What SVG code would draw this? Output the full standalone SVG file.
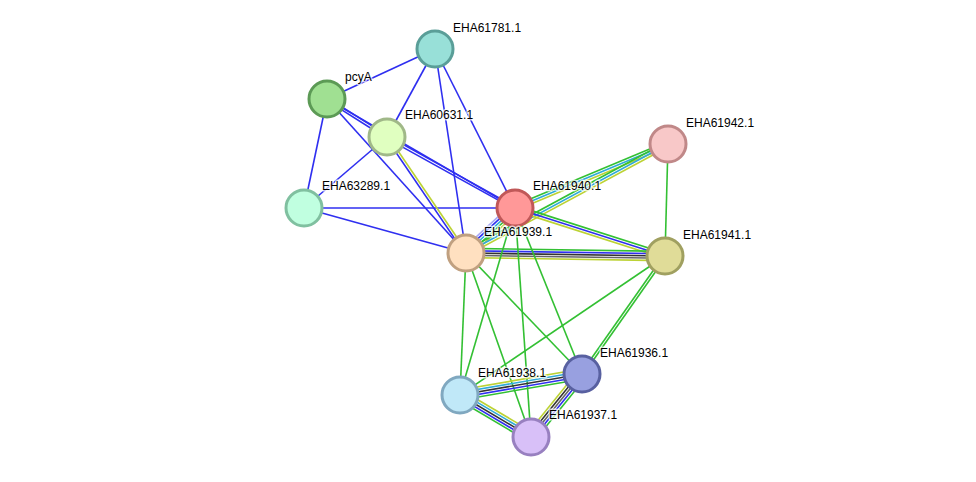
<svg xmlns="http://www.w3.org/2000/svg" width="976" height="482" viewBox="0 0 976 482">
<style>
line{stroke-width:1.6;fill:none}
.b{stroke:#2f2ff0}
.g{stroke:#33c033}
.c{stroke:#2eaad8}
.y{stroke:#bcd234}
.k{stroke:#333}
.k2{stroke:#666}
.l{stroke:#a8a8f4}
circle{stroke-width:3}
text{font-family:"Liberation Sans",Arial,sans-serif;font-size:12px;fill:#000;stroke:#fff;stroke-width:3;stroke-opacity:0.7;paint-order:stroke;stroke-linejoin:round}
</style>
<rect width="976" height="482" fill="#fff"/>
<g id="edges">
<line class="b" x1="435" y1="49" x2="327" y2="99"/>
<line class="b" x1="435" y1="49" x2="387" y2="137"/>
<line class="b" x1="435" y1="49" x2="466" y2="253"/>
<line class="b" x1="435" y1="49" x2="515" y2="208"/>
<line class="b" x1="327" y1="99" x2="304" y2="208"/>
<line class="b" x1="327" y1="99" x2="466" y2="253"/>
<line class="b" x1="327" y1="99" x2="515" y2="208"/>
<line class="b" x1="387" y1="137" x2="304" y2="208"/>
<line class="b" x1="304" y1="208" x2="515" y2="208"/>
<line class="b" x1="304" y1="208" x2="466" y2="253"/>
<g transform="translate(327,99) rotate(32.35)"><line class="b" x2="71" y1="-1.25" y2="-1.25"/><line class="b" x2="71" y1="1.25" y2="1.25"/></g>
<g transform="translate(387,137) rotate(29.02)"><line class="b" x2="146.4" y1="-1.25" y2="-1.25"/><line class="b" x2="146.4" y1="1.25" y2="1.25"/></g>
<g transform="translate(387,137) rotate(55.74)"><line class="y" x2="140.3" y1="-1.25" y2="-1.25"/><line class="b" x2="140.3" y1="1.25" y2="1.25"/></g>
<g transform="translate(466,253) rotate(-42.56)"><line class="l" x2="66.5" y1="-5" y2="-5"/><line class="b" x2="66.5" y1="-2.5" y2="-2.5"/><line class="c" x2="66.5"/><line class="g" x2="66.5" y1="2.5" y2="2.5"/><line class="y" x2="66.5" y1="5" y2="5"/></g>
<g transform="translate(515,208) rotate(-22.70)"><line class="g" x2="165.8" y1="-2.5" y2="-2.5"/><line class="c" x2="165.8"/><line class="y" x2="165.8" y1="2.5" y2="2.5"/></g>
<g transform="translate(466,253) rotate(-28.35)"><line class="g" x2="229.5" y1="-2.5" y2="-2.5"/><line class="c" x2="229.5"/><line class="y" x2="229.5" y1="2.5" y2="2.5"/></g>
<g transform="translate(515,208) rotate(17.74)"><line class="g" x2="157.5" y1="-2.5" y2="-2.5"/><line class="b" x2="157.5"/><line class="y" x2="157.5" y1="2.5" y2="2.5"/></g>
<g transform="translate(466,253) rotate(0.86)"><line class="g" x2="199" y1="-4.6" y2="-4.6"/><line class="b" x2="199" y1="-2.3" y2="-2.3"/><line class="k" x2="199"/><line class="k2" x2="199" y1="2.3" y2="2.3"/><line class="y" x2="199" y1="4.6" y2="4.6"/></g>
<line class="g" x1="668" y1="144" x2="665" y2="256"/>
<g transform="translate(665,256) rotate(125.12)"><line class="g" x2="144.3" y1="-1.25" y2="-1.25"/><line class="g" x2="144.3" y1="1.25" y2="1.25"/></g>
<line class="g" x1="665" y1="256" x2="460" y2="395"/>
<line class="g" x1="466" y1="253" x2="460" y2="395"/>
<line class="g" x1="466" y1="253" x2="531" y2="437"/>
<line class="g" x1="466" y1="253" x2="582" y2="374"/>
<line class="g" x1="515" y1="208" x2="460" y2="395"/>
<line class="g" x1="515" y1="208" x2="531" y2="437"/>
<line class="g" x1="515" y1="208" x2="582" y2="374"/>
<g transform="translate(460,395) rotate(-9.77)"><line class="y" x2="123.8" y1="-5" y2="-5"/><line class="c" x2="123.8" y1="-2.5" y2="-2.5"/><line class="k" x2="123.8"/><line class="b" x2="123.8" y1="2.5" y2="2.5"/><line class="g" x2="123.8" y1="5" y2="5"/></g>
<g transform="translate(460,395) rotate(30.60)"><line class="y" x2="82.5" y1="-5" y2="-5"/><line class="c" x2="82.5" y1="-2.5" y2="-2.5"/><line class="k" x2="82.5"/><line class="b" x2="82.5" y1="2.5" y2="2.5"/><line class="g" x2="82.5" y1="5" y2="5"/></g>
<g transform="translate(582,374) rotate(129.0)"><line class="y" x2="81.1" y1="5" y2="5"/><line class="k" x2="81.1" y1="2.5" y2="2.5"/><line class="k2" x2="81.1"/><line class="b" x2="81.1" y1="-2.5" y2="-2.5"/><line class="g" x2="81.1" y1="-5" y2="-5"/></g>
</g>
<g id="nodes">
<g id="n-EHA61781.1"><circle cx="435" cy="49" r="18" fill="#98e0d8" stroke="#5a9e98"/><text x="453" y="32">EHA61781.1</text></g>
<g id="n-pcyA"><circle cx="327" cy="99" r="18" fill="#a0e092" stroke="#5c9a55"/><text x="345" y="81">pcyA</text></g>
<g id="n-EHA60631.1"><circle cx="387" cy="137" r="18" fill="#e0ffc0" stroke="#a0b888"/><text x="405" y="119">EHA60631.1</text></g>
<g id="n-EHA63289.1"><circle cx="304" cy="208" r="18" fill="#c0ffe0" stroke="#80c0a0"/><text x="322" y="190">EHA63289.1</text></g>
<g id="n-EHA61940.1"><circle cx="515" cy="208" r="18" fill="#ff9898" stroke="#c05858"/><text x="533" y="190">EHA61940.1</text></g>
<g id="n-EHA61942.1"><circle cx="668" cy="144" r="18" fill="#f8c8c8" stroke="#c08888"/><text x="686" y="127">EHA61942.1</text></g>
<g id="n-EHA61939.1"><circle cx="466" cy="253" r="18" fill="#ffe0c0" stroke="#c0a080"/><text x="484" y="236">EHA61939.1</text></g>
<g id="n-EHA61941.1"><circle cx="665" cy="256" r="18" fill="#e0dc98" stroke="#a0a060"/><text x="683" y="239">EHA61941.1</text></g>
<g id="n-EHA61936.1"><circle cx="582" cy="374" r="18" fill="#98a0e0" stroke="#5860a0"/><text x="600" y="357">EHA61936.1</text></g>
<g id="n-EHA61938.1"><circle cx="460" cy="395" r="18" fill="#c0e8f8" stroke="#80a8c0"/><text x="478" y="377">EHA61938.1</text></g>
<g id="n-EHA61937.1"><circle cx="531" cy="437" r="18" fill="#d8c0f8" stroke="#9880c0"/><text x="549" y="419">EHA61937.1</text></g>
</g>
</svg>
